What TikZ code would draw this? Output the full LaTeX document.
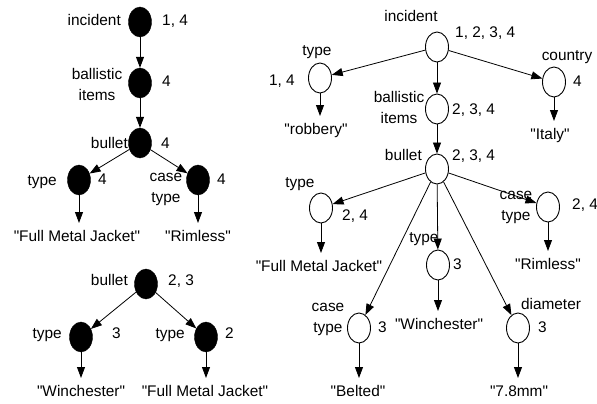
\documentclass[tikz,border=0pt]{standalone}
\usepackage{fontspec}
\setmainfont{Liberation Sans}[Ligatures=TeXOff]
\usetikzlibrary{shapes.geometric,arrows.meta}
\begin{document}
\begin{tikzpicture}[x=1pt,y=-1pt,
 every node/.style={font=\fontsize{15.4}{21}\selectfont},
 bnode/.style={ellipse, fill=black, draw=black, minimum width=23pt, minimum height=30pt, inner sep=0pt},
 wnode/.style={ellipse, fill=white, draw=black, line width=0.9pt, minimum width=23pt, minimum height=30pt, inner sep=0pt},
 lab/.style={inner sep=0pt, text height=11pt, text depth=3pt},
 mlab/.style={inner sep=0pt, align=center},
 val/.style={inner sep=0pt, outer ysep=7pt, text height=11pt, text depth=3pt},
 arr/.style={-{Triangle[length=11pt,width=8pt]}, line width=0.8pt},
]
\useasboundingbox (0,0) rectangle (597,404);
% ---------- left upper tree
\node[bnode] (L1) at (140,22) {};
\node[lab, anchor=east] (L1t) at (121,22) {incident};
\node[lab, anchor=west] (L1n) at (162,22) {1, 4};
\node[bnode] (L2) at (140,83) {};
\node[mlab] (L2t) at (97,84) {ballistic\\items};
\node[lab, anchor=west] (L2n) at (162,83) {4};
\node[bnode] (L3) at (140,143) {};
\node[lab, anchor=east] (L3t) at (128,144) {bullet};
\node[lab, anchor=west] (L3n) at (161,144) {4};
\node[bnode] (L4) at (79,180) {};
\node[lab, anchor=east] (L4t) at (57,181) {type};
\node[lab, anchor=west] (L4n) at (98,180) {4};
\node[bnode] (L5) at (198,180) {};
\node[mlab] (L5t) at (166,189) {case\\type};
\node[lab, anchor=west] (L5n) at (217,180) {4};
\node[val] (L4v) at (77,237) {"Full Metal Jacket"};
\node[val] (L5v) at (198,237) {"Rimless"};
\draw[arr] (L1) -- (L2);
\draw[arr] (L2) -- (L3);
\draw[arr] (L3) -- (L4);
\draw[arr] (L3) -- (L5);
\draw[arr] (L4) -- (L4 |- L4v.north);
\draw[arr] (L5) -- (L5 |- L5v.north);
% ---------- left lower tree
\node[bnode] (B1) at (146,284) {};
\node[lab, anchor=east] (B1t) at (128,281) {bullet};
\node[lab, anchor=west] (B1n) at (168,281) {2, 3};
\node[bnode] (B2) at (81,337) {};
\node[lab, anchor=east] (B2t) at (62,334) {type};
\node[lab, anchor=west] (B2n) at (112,334) {3};
\node[bnode] (B3) at (206,337) {};
\node[lab, anchor=east] (B3t) at (185,334) {type};
\node[lab, anchor=west] (B3n) at (225,334) {2};
\node[val] (B2v) at (81,392) {"Winchester"};
\node[val] (B3v) at (205,392) {"Full Metal Jacket"};
\draw[arr] (B1) -- (B2);
\draw[arr] (B1) -- (B3);
\draw[arr] (B2) -- (B2 |- B2v.north);
\draw[arr] (B3) -- (B3 |- B3v.north);
% ---------- right tree
\node[wnode] (R1) at (437,47) {};
\node[lab] (R1t) at (411,18) {incident};
\node[lab, anchor=west] (R1n) at (455,34) {1, 2, 3, 4};
\node[wnode] (R2) at (320,78) {};
\node[lab] (R2t) at (317,52) {type};
\node[lab, anchor=east] (R2n) at (295,81) {1, 4};
\node[val] (R2v) at (316,130) {"robbery"};
\node[wnode] (R3) at (554,82) {};
\node[lab] (R3t) at (567,57) {country};
\node[lab, anchor=west] (R3n) at (573,83) {4};
\node[val] (R3v) at (550,135) {"Italy"};
\node[wnode] (R4) at (437,109) {};
\node[mlab] (R4t) at (399,107) {ballistic\\items};
\node[lab, anchor=west] (R4n) at (452,110) {2, 3, 4};
\node[wnode] (R5) at (437,169) {};
\node[lab, anchor=east] (R5t) at (422,156) {bullet};
\node[lab, anchor=west] (R5n) at (452,156) {2, 3, 4};
\node[wnode] (R6) at (321,208) {};
\node[lab] (R6t) at (300,183) {type};
\node[lab, anchor=west] (R6n) at (342,216) {2, 4};
\node[val] (R6v) at (319,267) {"Full Metal Jacket"};
\node[wnode] (R7) at (548,207) {};
\node[mlab] (R7t) at (516,207) {case\\type};
\node[lab, anchor=west] (R7n) at (572,205) {2, 4};
\node[val] (R7v) at (548,265) {"Rimless"};
\node[wnode] (R8) at (438,265) {};
\node[lab] (R8t) at (424,238) {type};
\node[lab, anchor=west] (R8n) at (453,265) {3};
\node[val] (R8v) at (439,325) {"Winchester"};
\node[wnode] (R9) at (359,328) {};
\node[mlab] (R9t) at (328,319) {case\\type};
\node[lab, anchor=west] (R9n) at (378,328) {3};
\node[val] (R9v) at (358,392) {"Belted"};
\node[wnode] (R10) at (518,328) {};
\node[lab] (R10t) at (551,305) {diameter};
\node[lab, anchor=west] (R10n) at (538,328) {3};
\node[val] (R10v) at (519,392) {"7.8mm"};
\draw[arr] (R1) -- (R2);
\draw[arr] (R1) -- (R3);
\draw[arr] (R1) -- (R4);
\draw[arr] (R4) -- (R5);
\draw[arr] (R5) -- (R6);
\draw[arr] (R5) -- (R7);
\draw[arr] (R5) -- (R8);
\draw[arr] (R5) -- (R9);
\draw[arr] (R5) -- (R10);
\draw[arr] (R2) -- (R2 |- R2v.north);
\draw[arr] (R3) -- (R3 |- R3v.north);
\draw[arr] (R6) -- (R6 |- R6v.north);
\draw[arr] (R7) -- (R7 |- R7v.north);
\draw[arr] (R8) -- (R8 |- R8v.north);
\draw[arr] (R9) -- (R9 |- R9v.north);
\draw[arr] (R10) -- (R10 |- R10v.north);
\end{tikzpicture}
\end{document}
